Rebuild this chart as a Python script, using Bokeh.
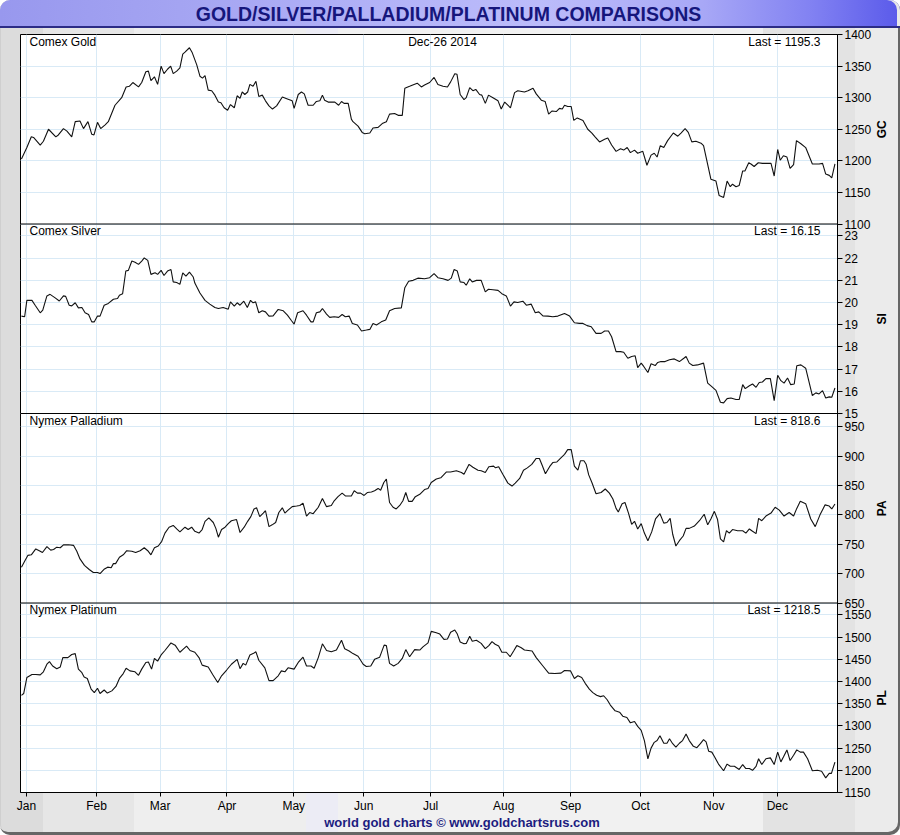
import math
from bokeh.plotting import figure
from bokeh.models import Range1d, FixedTicker, Span, Label, Div, CustomJSTickFormatter
from bokeh.layouts import column, row
from bokeh.embed import file_html
from bokeh.resources import INLINE

# ---------------- data (x = trading-day index, 0 = Jan 2 2014) ----------------
MONTHS = ["Jan", "Feb", "Mar", "Apr", "May", "Jun", "Jul", "Aug", "Sep", "Oct", "Nov", "Dec"]
MONTH_DAY = [0, 22, 42, 63, 84, 106, 127, 150, 171, 193, 216, 236]

GC_TICKS = [1100, 1150, 1200, 1250, 1300, 1350, 1400]
SI_TICKS = [15, 16, 17, 18, 19, 20, 21, 22, 23]
PA_TICKS = [650, 700, 750, 800, 850, 900, 950]
PL_TICKS = [1150, 1200, 1250, 1300, 1350, 1400, 1450, 1500, 1550]

GOLD = [(-1.6,1203),(0.1,1221),(1.5,1238),(2.2,1237),(4.3,1225),(5.3,1231),(6.9,1250),(9.2,1238),(10.0,1241),(11.6,1251),(12.7,1247),(14.2,1238),(15.3,1262),(16.8,1263),(17.9,1251),(19.3,1262),(20.5,1242),(21.2,1241),(22.3,1261),(23.3,1251),(24.7,1257),(25.7,1262),(27.8,1288),(29.9,1300),(31.3,1317),(32.3,1318),(33.4,1324),(35.2,1317),(36.2,1324),(37.5,1341),(38.3,1342),(39.1,1327),(40.2,1333),(41.2,1321),(42.3,1350),(43.2,1338),(44.3,1345),(45.3,1350),(46.1,1338),(47.2,1342),(48.2,1347),(49.1,1369),(49.8,1372),(51.2,1379),(52.1,1371),(53.5,1352),(54.5,1334),(55.3,1331),(56.1,1335),(57.1,1312),(58.2,1311),(59.2,1304),(60.3,1293),(61.1,1292),(62.1,1284),(63.2,1280),(64.1,1289),(65.3,1284),(66.2,1303),(67.1,1299),(67.8,1309),(68.6,1305),(69.5,1309),(70.2,1321),(71.2,1318),(72.1,1326),(73.0,1302),(74.1,1304),(75.1,1295),(76.2,1287),(77.3,1282),(78.6,1287),(80.4,1301),(82.0,1298),(83.5,1295),(84.1,1283),(85.4,1305),(86.4,1309),(87.3,1306),(88.5,1288),(90.1,1288),(91.1,1294),(92.2,1295),(93.0,1304),(93.7,1296),(94.8,1293),(96.9,1293),(98.1,1288),(99.0,1294),(99.8,1291),(101.1,1291),(102.1,1266),(102.6,1262),(104.2,1255),(105.5,1245),(106.3,1243),(107.9,1244),(108.9,1252),(110.5,1253),(111.8,1259),(113.1,1262),(114.1,1274),(115.7,1275),(116.8,1272),(118.1,1272),(118.9,1315),(120.4,1318),(122.8,1323),(124.1,1317),(125.1,1320),(126.7,1324),(128.1,1332),(129.3,1321),(130.9,1318),(132.3,1317),(133.3,1325),(134.6,1338),(135.3,1337),(136.3,1305),(137.5,1297),(138.2,1300),(139.3,1316),(140.3,1311),(141.2,1313),(142.4,1305),(143.1,1304),(144.2,1291),(145.2,1304),(146.6,1300),(148.2,1295),(149.2,1282),(150.3,1293),(152.1,1284),(153.4,1308),(154.4,1311),(156.5,1309),(157.6,1311),(159.2,1315),(160.2,1306),(161.8,1296),(163.0,1294),(164.1,1274),(165.2,1279),(166.5,1278),(167.5,1283),(168.4,1282),(169.1,1288),(170.1,1286),(171.2,1286),(172.0,1264),(173.1,1268),(174.9,1264),(176.4,1250),(177.7,1244),(178.7,1238),(180.1,1230),(181.7,1234),(182.7,1236),(183.9,1225),(185.3,1215),(186.7,1219),(187.7,1217),(188.8,1221),(189.8,1213),(191.1,1217),(192.1,1212),(193.7,1215),(195.0,1193),(196.3,1209),(197.3,1212),(198.2,1206),(199.2,1224),(200.3,1221),(201.5,1232),(203.3,1244),(204.7,1239),(205.7,1244),(207.0,1251),(208.0,1245),(209.1,1230),(210.4,1231),(212.0,1228),(212.8,1224),(215.1,1171),(216.7,1168),(217.7,1145),(219.1,1142),(220.2,1168),(221.2,1159),(221.9,1163),(223.0,1159),(224.0,1161),(225.1,1184),(225.8,1184),(227.0,1197),(227.7,1195),(228.7,1191),(230.0,1197),(231.3,1196),(234.0,1196),(235.0,1176),(236.1,1218),(236.9,1201),(237.9,1208),(239.0,1206),(240.0,1188),(241.1,1194),(242.0,1232),(243.4,1227),(244.9,1221),(247.0,1195),(249.1,1195),(250.2,1196),(251.2,1179),(252.3,1177),(253.1,1173),(254.1,1195.3)]

SILVER = [(-1.6,19.39),(-0.6,19.36),(0.1,20.10),(1.7,20.10),(2.7,19.88),(4.3,19.54),(5.1,19.66),(6.4,20.30),(7.4,20.37),(9.0,20.21),(10.3,20.07),(11.6,20.30),(12.3,20.28),(13.4,19.88),(14.2,19.85),(15.3,19.99),(16.3,19.76),(17.4,19.78),(18.4,19.54),(19.5,19.46),(20.5,19.13),(21.3,19.13),(22.3,19.39),(23.1,19.39),(24.4,19.88),(25.7,19.96),(27.3,20.15),(28.6,20.18),(29.2,20.33),(30.2,20.40),(31.2,21.42),(32.0,21.45),(33.1,21.87),(34.1,21.82),(35.2,21.72),(36.2,21.87),(37.0,22.01),(38.1,21.90),(39.1,21.27),(40.4,21.34),(41.2,21.27),(42.3,21.45),(43.2,21.22),(44.3,21.42),(45.4,21.49),(46.1,20.93),(47.2,20.90),(48.2,20.82),(49.1,21.34),(50.1,21.19),(51.2,21.37),(52.4,21.15),(52.9,20.88),(54.5,20.43),(56.1,20.10),(57.6,19.93),(59.2,19.78),(60.3,19.73),(61.8,19.78),(63.4,19.70),(64.1,20.03),(65.3,19.84),(66.2,19.99),(67.1,19.88),(68.3,20.06),(69.4,19.78),(70.4,20.10),(71.2,19.99),(72.0,20.03),(73.0,19.54),(74.1,19.63),(75.1,19.58),(76.2,19.39),(77.5,19.40),(79.1,19.69),(80.7,19.63),(82.0,19.43),(83.3,19.18),(84.1,19.03),(85.2,19.54),(86.9,19.63),(88.0,19.43),(89.4,19.13),(90.1,19.13),(91.1,19.54),(92.2,19.58),(93.0,19.73),(94.3,19.48),(95.3,19.33),(96.7,19.36),(98.1,19.33),(99.2,19.46),(100.2,19.36),(101.4,19.39),(102.4,19.06),(104.0,18.99),(105.3,18.72),(106.8,18.76),(107.9,18.79),(108.9,19.06),(110.0,18.99),(111.5,19.13),(112.9,19.21),(114.1,19.63),(115.7,19.73),(117.8,19.76),(118.9,20.67),(120.1,20.96),(121.5,21.00),(123.0,21.10),(125.1,21.07),(126.7,21.12),(128.1,21.30),(129.3,21.12),(130.9,21.07),(132.5,21.00),(133.5,21.10),(134.4,21.49),(135.4,21.42),(136.3,20.93),(137.5,20.90),(138.2,20.78),(139.3,21.07),(140.1,20.93),(141.4,21.00),(142.9,21.00),(144.2,20.48),(145.2,20.60),(146.6,20.58),(148.2,20.55),(149.4,20.40),(150.8,20.30),(152.1,19.84),(153.2,20.03),(154.4,20.00),(156.0,20.06),(157.1,19.88),(158.6,19.93),(159.9,19.54),(161.0,19.58),(162.3,19.40),(163.9,19.39),(165.4,19.36),(167.0,19.39),(169.1,19.51),(170.7,19.39),(172.2,19.09),(173.8,19.06),(174.9,19.06),(176.2,18.96),(177.5,18.91),(179.0,18.61),(180.6,18.61),(181.7,18.72),(182.9,18.72),(183.9,18.46),(185.3,17.79),(186.7,17.79),(187.7,17.76),(189.0,17.49),(190.2,17.57),(191.3,17.60),(192.1,17.07),(193.2,17.27),(194.0,17.12),(195.3,16.85),(196.3,17.24),(197.6,17.16),(198.4,17.30),(199.4,17.34),(200.7,17.34),(202.1,17.42),(203.6,17.46),(205.2,17.34),(206.6,17.49),(207.3,17.57),(208.3,17.27),(209.4,17.16),(210.9,17.19),(212.8,17.27),(214.1,16.37),(215.3,16.22),(216.7,16.04),(218.1,15.51),(219.1,15.48),(220.2,15.67),(221.4,15.70),(223.0,15.63),(224.0,15.63),(225.1,16.30),(225.9,16.12),(227.2,16.25),(228.2,16.33),(229.3,16.18),(230.3,16.40),(231.3,16.42),(232.4,16.57),(233.8,16.57),(235.0,15.58),(236.1,16.72),(237.1,16.48),(238.1,16.37),(239.2,16.60),(240.2,16.30),(241.3,16.33),(242.1,17.15),(243.4,17.19),(244.9,17.04),(247.0,15.81),(248.1,15.93),(249.1,15.88),(250.2,16.03),(251.2,15.70),(252.3,15.75),(253.1,15.73),(254.1,16.15)]

PALLADIUM = [(-1.6,711),(-0.6,721),(0.4,731),(1.5,732),(2.9,742),(4.0,739),(5.0,736),(6.4,746),(7.6,740),(8.5,741),(9.5,745),(10.6,744),(11.6,749),(13.2,749),(14.8,748),(15.8,738),(16.8,725),(18.2,714),(19.7,707),(21.0,702),(22.3,702),(23.1,700),(24.5,708),(25.5,711),(26.6,710),(27.3,717),(28.0,717),(29.2,728),(30.4,732),(31.5,739),(33.1,738),(34.3,736),(35.7,739),(37.0,744),(38.1,739),(39.1,732),(40.2,744),(41.4,747),(42.5,755),(43.5,769),(44.8,779),(46.1,782),(47.2,776),(48.2,771),(49.8,779),(50.8,775),(51.9,779),(52.9,772),(54.2,769),(55.2,775),(56.1,789),(57.3,795),(58.7,787),(59.5,777),(60.3,762),(61.3,775),(62.4,779),(63.4,785),(64.4,790),(66.0,792),(67.1,770),(68.4,779),(69.5,789),(70.5,797),(71.5,810),(72.3,812),(73.3,797),(74.4,803),(75.1,807),(76.2,780),(77.2,783),(78.3,787),(79.3,804),(80.4,812),(81.2,803),(82.2,808),(83.5,814),(84.9,815),(85.9,816),(86.9,820),(88.0,798),(89.0,804),(90.1,802),(91.7,813),(93.0,828),(94.3,814),(95.8,816),(96.7,824),(97.9,831),(99.2,837),(100.3,832),(102.1,832),(103.0,841),(104.0,837),(105.0,837),(106.1,833),(107.1,838),(108.4,839),(109.4,841),(110.5,845),(111.3,842),(112.3,855),(113.1,861),(114.1,821),(115.2,813),(116.2,810),(117.3,816),(118.3,824),(119.2,838),(120.1,823),(121.2,823),(122.2,831),(123.6,835),(125.1,843),(126.2,845),(127.2,855),(128.8,861),(130.2,863),(132.0,873),(133.3,873),(135.1,875),(136.7,872),(137.5,869),(139.1,886),(140.3,881),(141.9,876),(142.9,875),(144.2,872),(145.3,882),(146.8,883),(147.4,880),(148.4,882),(149.7,869),(151.3,854),(152.6,849),(153.6,854),(155.0,862),(156.2,876),(157.4,880),(158.8,886),(160.2,896),(161.2,896),(162.1,884),(163.1,870),(164.4,882),(165.4,889),(166.7,890),(167.8,896),(169.1,903),(170.1,911),(171.2,911),(172.2,883),(173.3,876),(174.1,892),(175.2,892),(175.9,886),(176.7,868),(177.7,855),(179.0,836),(180.6,838),(181.9,844),(183.2,837),(184.3,827),(185.3,811),(186.0,805),(187.2,819),(188.1,821),(189.2,803),(190.2,784),(191.1,789),(192.1,776),(193.2,785),(194.2,769),(195.3,756),(196.5,771),(197.7,793),(199.1,802),(200.3,786),(201.3,787),(202.3,794),(203.1,767),(204.1,747),(205.2,756),(206.4,764),(207.3,777),(208.3,777),(209.9,781),(211.5,790),(213.0,801),(214.1,783),(215.1,793),(216.2,806),(217.2,792),(218.1,759),(219.1,754),(220.0,773),(220.9,769),(221.9,775),(223.5,773),(225.1,773),(226.1,769),(227.2,776),(228.2,772),(229.3,768),(230.1,794),(231.1,790),(232.4,798),(234.0,803),(235.3,813),(236.6,808),(238.1,798),(239.7,804),(241.1,798),(242.1,811),(243.2,823),(244.9,819),(246.5,793),(247.9,780),(249.4,800),(251.0,817),(252.3,815),(253.1,810),(254.1,818.6)]

PLATINUM = [(-1.6,1369),(-0.9,1373),(0.1,1409),(1.7,1416),(2.9,1416),(4.3,1415),(5.3,1422),(6.4,1439),(7.2,1445),(8.2,1435),(9.5,1429),(10.6,1433),(11.4,1454),(13.0,1454),(14.2,1461),(15.3,1463),(16.3,1428),(17.4,1420),(18.1,1410),(19.1,1407),(20.3,1383),(21.3,1375),(22.3,1385),(23.1,1373),(24.4,1381),(25.4,1374),(26.8,1379),(28.1,1389),(29.2,1407),(30.4,1418),(31.3,1430),(32.5,1424),(34.1,1422),(35.2,1414),(36.2,1428),(37.5,1443),(38.3,1444),(39.3,1428),(40.2,1452),(41.2,1446),(42.3,1460),(43.5,1470),(45.4,1487),(46.7,1482),(48.2,1466),(49.1,1472),(50.3,1480),(51.4,1470),(52.9,1466),(54.2,1454),(55.2,1437),(57.1,1433),(58.5,1416),(60.1,1398),(61.3,1413),(62.9,1426),(64.4,1439),(66.2,1450),(67.1,1429),(68.1,1441),(68.9,1437),(70.2,1460),(71.2,1463),(72.1,1467),(73.0,1448),(74.9,1431),(76.2,1402),(77.5,1402),(79.1,1413),(80.1,1424),(81.2,1422),(82.2,1431),(84.1,1428),(85.4,1443),(86.9,1455),(88.0,1435),(89.4,1435),(90.4,1430),(91.7,1454),(93.0,1485),(94.3,1470),(95.8,1467),(97.4,1471),(99.0,1493),(100.0,1474),(101.4,1469),(102.6,1463),(104.2,1457),(105.8,1439),(106.8,1434),(108.2,1435),(109.4,1450),(111.0,1455),(112.4,1482),(113.1,1481),(114.1,1441),(115.4,1435),(116.8,1441),(118.1,1452),(119.2,1472),(120.4,1456),(122.0,1472),(123.6,1471),(124.6,1478),(126.2,1487),(127.2,1513),(128.8,1510),(129.9,1507),(131.2,1495),(132.3,1496),(133.3,1511),(134.6,1516),(135.4,1507),(136.3,1489),(137.5,1485),(138.2,1486),(139.3,1502),(140.1,1491),(141.4,1493),(142.9,1486),(144.2,1474),(145.3,1481),(146.3,1490),(147.3,1484),(148.4,1480),(149.4,1466),(150.8,1466),(152.0,1456),(153.2,1470),(154.1,1481),(155.5,1476),(156.5,1471),(158.9,1469),(160.2,1454),(162.3,1435),(164.1,1419),(166.0,1418),(168.0,1419),(169.1,1425),(171.0,1424),(172.2,1407),(173.3,1413),(174.5,1409),(175.6,1396),(176.9,1383),(178.0,1375),(179.2,1369),(180.4,1366),(181.4,1368),(182.5,1359),(183.5,1347),(185.0,1334),(186.4,1331),(187.4,1322),(188.7,1319),(189.8,1307),(191.1,1310),(192.1,1299),(193.2,1290),(194.2,1267),(195.3,1226),(196.3,1250),(197.3,1263),(198.2,1267),(199.1,1278),(200.3,1261),(201.3,1261),(202.1,1271),(203.1,1260),(204.1,1252),(205.2,1261),(206.2,1267),(207.3,1282),(208.3,1267),(209.6,1254),(210.7,1251),(211.8,1260),(212.8,1269),(213.6,1264),(214.4,1243),(215.4,1241),(216.2,1231),(217.5,1214),(219.1,1199),(220.2,1214),(221.2,1209),(222.5,1209),(224.0,1202),(225.1,1213),(226.1,1204),(227.2,1204),(228.2,1200),(229.3,1209),(230.1,1226),(231.1,1213),(232.4,1226),(233.8,1228),(235.0,1213),(236.1,1241),(237.1,1219),(237.9,1230),(239.0,1246),(240.0,1222),(241.1,1234),(242.1,1246),(243.2,1241),(244.2,1241),(245.5,1226),(247.0,1199),(248.6,1200),(249.9,1198),(251.2,1183),(252.3,1193),(253.0,1193),(254.1,1218.5)]

PANELS = [
    dict(code="GC", name="Comex Gold", data=GOLD, lo=1100, hi=1400, ticks=GC_TICKS, last="Last = 1195.3"),
    dict(code="SI", name="Comex Silver", data=SILVER, lo=15, hi=23.54, ticks=SI_TICKS, last="Last = 16.15"),
    dict(code="PA", name="Nymex Palladium", data=PALLADIUM, lo=650, hi=972.5, ticks=PA_TICKS, last="Last = 818.6"),
    dict(code="PL", name="Nymex Platinum", data=PLATINUM, lo=1150, hi=1577, ticks=PL_TICKS, last="Last = 1218.5"),
]
DATE_TEXT = "Dec-26 2014"
TITLE = "GOLD/SILVER/PALLADIUM/PLATINUM COMPARISONS"
FOOTER = "world gold charts \u00a9 www.goldchartsrus.com"

# ---------------- styling / layout ----------------
FONT = "Liberation Sans"
GRID = "#d9eaf6"
X0, X1 = -1.9, 254.9
N = len(PANELS)
W = 900
TITLE_H, FOOT_H = 28, 20
TOP_B, BOT_B = 6, 21
FIG_H = 835 - TITLE_H - FOOT_H
SIDE_W = 26
MAIN_W = W - SIDE_W
LEFT_B = 20
FRAME_W = 818

p = figure(width=MAIN_W, height=FIG_H, x_range=Range1d(X0, X1), y_range=Range1d(0, N),
           y_axis_location="right", output_backend="svg", toolbar_location=None,
           min_border_left=LEFT_B, min_border_right=MAIN_W - LEFT_B - FRAME_W,
           min_border_top=TOP_B, min_border_bottom=BOT_B,
           background_fill_color="white", border_fill_color=None,
           outline_line_color="black", outline_line_width=1)

extra = {}
tick_pos, tick_lab = [], []
for k, pn in enumerate(PANELS):
    base = N - 1 - k
    span = pn["hi"] - pn["lo"]
    extra[pn["code"]] = Range1d(pn["lo"] - base * span, pn["hi"] + k * span)
    for t in pn["ticks"]:
        tick_pos.append(round(base + (t - pn["lo"]) / span, 6))
        tick_lab.append(str(t))
p.extra_y_ranges = extra

for k, pn in enumerate(PANELS):
    xs = [a for a, b in pn["data"]]
    ys = [b for a, b in pn["data"]]
    p.line(xs, ys, y_range_name=pn["code"], line_color="#111111", line_width=1.1)

LOOKUP = """
    let best = 0, d = 1e9;
    for (let i = 0; i < pos.length; i++) { const dd = Math.abs(pos[i] - tick); if (dd < d) { d = dd; best = i; } }
    return lab[best];
"""

ytick = FixedTicker(ticks=tick_pos)
yax = p.yaxis[0]
yax.ticker = ytick
yax.formatter = CustomJSTickFormatter(args=dict(pos=tick_pos, lab=tick_lab), code=LOOKUP)
yax.major_tick_out = 5
yax.major_tick_in = 0
yax.minor_tick_out = 0
yax.minor_tick_in = 0
yax.major_label_standoff = 2
yax.major_label_text_font = FONT
yax.major_label_text_font_size = "12px"
yax.major_label_text_color = "black"
yax.axis_line_color = "black"
yax.major_tick_line_color = "black"

xtick = FixedTicker(ticks=MONTH_DAY)
xax = p.xaxis[0]
xax.ticker = xtick
xax.formatter = CustomJSTickFormatter(args=dict(pos=MONTH_DAY, lab=MONTHS), code=LOOKUP)
xax.major_tick_out = 4
xax.major_tick_in = 0
xax.minor_tick_out = 0
xax.minor_tick_in = 0
xax.major_label_standoff = 2
xax.major_label_text_font = FONT
xax.major_label_text_font_size = "12px"
xax.major_label_text_color = "black"
xax.axis_line_color = "black"

p.xgrid[0].ticker = xtick
p.ygrid[0].ticker = ytick
p.xgrid[0].grid_line_color = GRID
p.ygrid[0].grid_line_color = GRID

for b in range(1, N):
    p.add_layout(Span(location=b, dimension="width", line_color="black", line_width=1))

for k, pn in enumerate(PANELS):
    top = N - k
    p.add_layout(Label(x=X0, y=top, x_offset=9, text=pn["name"], text_align="left", text_baseline="top",
                       text_font=FONT, text_font_size="12px", text_color="black"))
    p.add_layout(Label(x=X1, y=top, x_offset=-17, text=pn["last"], text_align="right", text_baseline="top",
                       text_font=FONT, text_font_size="12px", text_color="black"))
p.add_layout(Label(x=X0, y=N, x_offset=422, text=DATE_TEXT, text_align="center", text_baseline="top",
                   text_font=FONT, text_font_size="12px", text_color="black"))

# narrow side strip holding the rotated symbol names
side = figure(width=SIDE_W, height=FIG_H, x_range=Range1d(0, 1), y_range=Range1d(0, N),
              output_backend="svg", toolbar_location=None,
              min_border_left=0, min_border_right=0, min_border_top=TOP_B, min_border_bottom=BOT_B,
              background_fill_color=None, border_fill_color=None, outline_line_color=None)
side.axis.visible = False
side.grid.visible = False
for k, pn in enumerate(PANELS):
    side.add_layout(Label(x=0.27, y=N - k - 0.5, text=pn["code"], angle=math.pi / 2,
                          text_align="center", text_baseline="middle", text_font=FONT,
                          text_font_size="12px", text_font_style="bold", text_color="black"))

title_div = Div(
    text=f'<div style="width:{W - 3}px;height:{TITLE_H}px;line-height:{TITLE_H}px;text-align:center;font-family:\'Liberation Sans\',Arial,sans-serif;font-weight:bold;font-size:19.5px;color:#16167c;">{TITLE}</div>',
    width=W, height=TITLE_H, margin=0,
    styles={"background": "linear-gradient(to right, #9898ee 0%, #a4a4f2 20%, #b4b4f8 45%, #bcbcfa 60%, #a8a8f6 78%, #8282f2 90%, #5a5aea 100%)",
            "border-radius": "10px 10px 0 0", "box-shadow": "inset 0 -2px 0 #2c2c86, inset -3px 0 0 #e8e8e8"})

footer_div = Div(
    text=f'<div style="width:{W}px;height:16px;line-height:16px;text-align:center;padding-left:24px;box-sizing:border-box;font-family:\'Liberation Sans\',Arial,sans-serif;font-weight:bold;font-size:13px;color:#1c1c80;">{FOOTER}</div>',
    width=W, height=FOOT_H, margin=0)

bg = ("linear-gradient(to right, #dcdcdc 0px, #dcdcdc 43px, #e6e6e6 43px, #e6e6e6 134px, "
      "#eeeeee 134px, #eeeeee 306px, #ececf5 306px, #ececf5 338px, #f1f1f1 338px, #f1f1f1 763px, "
      "#e3e3e3 763px, #e3e3e3 855px, #ebebeb 855px, #ebebeb 900px)")

layout = column(title_div, row(p, side, spacing=0, margin=0), footer_div, spacing=0, margin=0,
                styles={"background": bg, "border-radius": "10px",
                        "box-shadow": "inset -2px -3px 0 #666666, inset 1px 0 0 #cfcfcf"})

open("out.html", "w").write(file_html(layout, INLINE))
